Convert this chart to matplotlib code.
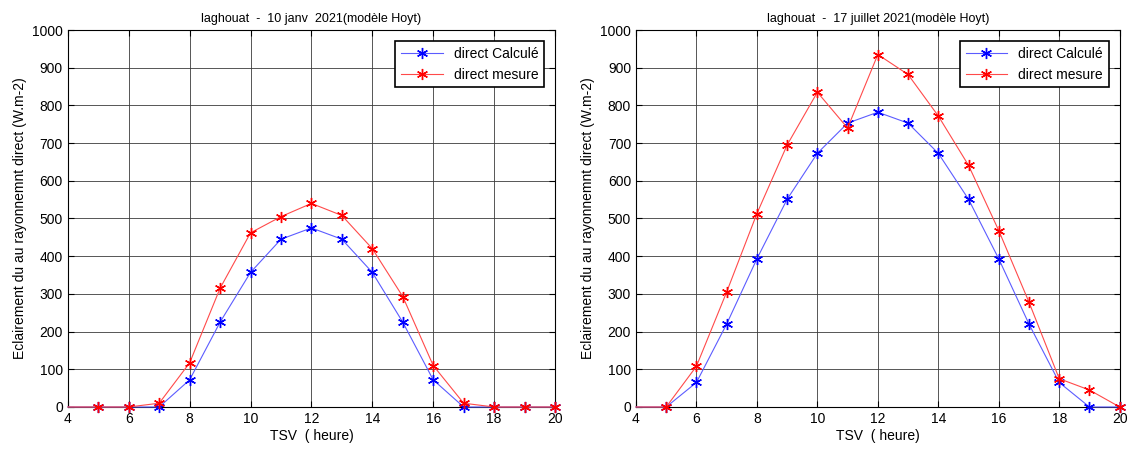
import numpy as np
import matplotlib.pyplot as plt

plt.rcParams['font.family'] = ['Liberation Sans', 'DejaVu Sans']

hours = [4, 5, 6, 7, 8, 9, 10, 11, 12, 13, 14, 15, 16, 17, 18, 19, 20]

jan_calc = [0, 0, 0, 0, 72, 225, 357, 445, 475, 445, 357, 225, 72, 0, 0, 0, 0]
jan_mes = [0, 0, 0, 10, 117, 315, 462, 505, 540, 508, 420, 293, 110, 10, 0, 0, 0]

jul_calc = [0, 0, 65, 220, 393, 551, 673, 753, 782, 753, 673, 551, 393, 220, 65, 0, 0]
jul_mes = [0, 0, 108, 305, 513, 695, 835, 740, 935, 882, 772, 641, 468, 278, 75, 45, 0]

titles = ["laghouat  -  10 janv  2021(modèle Hoyt)",
          "laghouat  -  17 juillet 2021(modèle Hoyt)"]

fig = plt.figure(figsize=(11.31, 4.5), dpi=100)
ax1 = fig.add_axes([0.060, 0.0956, 0.4307, 0.8377])
ax2 = fig.add_axes([0.5623, 0.0956, 0.4277, 0.8377])

for ax, calc, mes, title in [(ax1, jan_calc, jan_mes, titles[0]),
                             (ax2, jul_calc, jul_mes, titles[1])]:
    ax.plot(hours, calc, color='#5c5cff', lw=0.8, marker=(6, 2, 0), ms=8,
            mew=1.0, mec='blue', markevery=slice(1, None),
            label='direct Calculé', clip_on=False, zorder=3)
    ax.plot(hours, mes, color='#ff4a4a', lw=0.8, marker=(6, 2, 0), ms=8,
            mew=1.0, mec='red', markevery=slice(1, None),
            label='direct mesure', clip_on=False, zorder=3)
    ax.set_xlim(4, 20)
    ax.set_ylim(0, 1000)
    ax.set_xticks(np.arange(4, 21, 2))
    ax.set_yticks(np.arange(0, 1001, 100))
    ax.grid(True, color='#3a3a3a', lw=0.6)
    ax.set_axisbelow(True)
    ax.tick_params(direction='in', top=True, right=True, labelsize=10,
                   length=4, width=0.8)
    for s in ax.spines.values():
        s.set_linewidth(0.8)
    ax.set_title(title, fontsize=9, pad=6)
    ax.set_xlabel("TSV  ( heure)", fontsize=10, labelpad=2)
    ax.set_ylabel("Eclairement du au rayonnemnt direct (W.m-2)", fontsize=10,
                  labelpad=4)
    leg = ax.legend(loc='upper right', fontsize=10, fancybox=False,
                    edgecolor='black', framealpha=1, borderaxespad=0.8,
                    handlelength=3)
    leg.get_frame().set_linewidth(1.2)

fig.savefig("out.png", dpi=100)
